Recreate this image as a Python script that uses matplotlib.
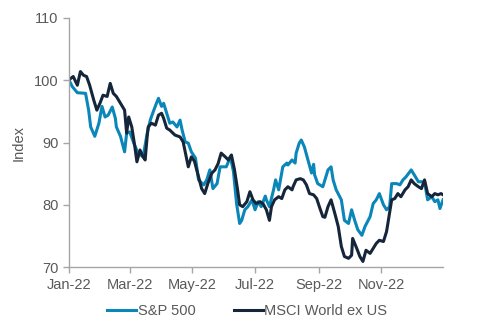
import matplotlib
matplotlib.use("Agg")
import matplotlib.pyplot as plt
import matplotlib.dates as mdates
import pandas as pd

sp_dates = ["2022-01-01","2022-01-04","2022-01-09","2022-01-17","2022-01-20","2022-01-22","2022-01-26","2022-01-30",
            "2022-02-02","2022-02-05","2022-02-08","2022-02-12","2022-02-15","2022-02-16","2022-02-20","2022-02-24","2022-02-26",
            "2022-03-01","2022-03-05","2022-03-09","2022-03-14","2022-03-18","2022-03-21","2022-03-24","2022-03-27","2022-03-29",
            "2022-04-01","2022-04-03","2022-04-06","2022-04-09","2022-04-12","2022-04-16","2022-04-19","2022-04-21","2022-04-24","2022-04-27","2022-04-30",
            "2022-05-04","2022-05-07","2022-05-12","2022-05-15","2022-05-18","2022-05-21","2022-05-25","2022-05-28","2022-05-31",
            "2022-06-03","2022-06-07","2022-06-10","2022-06-13","2022-06-16","2022-06-18","2022-06-21","2022-06-24","2022-06-28",
            "2022-07-01","2022-07-04","2022-07-07","2022-07-11","2022-07-12","2022-07-15","2022-07-19","2022-07-21","2022-07-24","2022-07-28",
            "2022-08-01","2022-08-02","2022-08-06","2022-08-09","2022-08-10","2022-08-13","2022-08-15","2022-08-18","2022-08-22","2022-08-25","2022-08-27","2022-08-28","2022-08-31",
            "2022-09-05","2022-09-10","2022-09-13","2022-09-15","2022-09-18","2022-09-23","2022-09-26","2022-09-30",
            "2022-10-03","2022-10-06","2022-10-09","2022-10-13","2022-10-16","2022-10-21","2022-10-24","2022-10-27","2022-10-30",
            "2022-11-03","2022-11-06","2022-11-09","2022-11-11","2022-11-16","2022-11-19","2022-11-22","2022-11-25","2022-11-30",
            "2022-12-03","2022-12-07","2022-12-10","2022-12-13","2022-12-16","2022-12-20","2022-12-23","2022-12-26","2022-12-28","2022-12-31"]
sp_values = [100.0,99.0,98.0,97.9,95.2,92.5,91.0,93.1,
             95.8,94.1,94.4,95.7,93.9,92.5,91.0,88.5,91.5,
             91.7,89.9,88.3,87.7,91.5,93.6,95.0,96.3,97.1,
             95.8,96.3,94.7,93.1,93.3,92.5,93.6,92.0,90.1,89.9,88.5,
             87.5,84.0,83.2,84.0,85.6,82.6,83.4,86.1,86.1,
             86.1,87.7,85.3,80.2,77.0,77.5,79.2,79.7,80.8,
             79.2,80.5,79.7,81.4,80.8,79.7,82.4,84.0,82.4,86.1,
             86.7,86.4,87.2,86.7,88.3,89.9,90.4,89.3,86.9,85.1,86.5,84.8,83.4,
             82.9,85.6,86.1,84.0,82.4,80.8,77.5,77.0,
             79.2,77.5,76.0,75.1,76.5,78.1,80.2,80.8,81.8,
             80.0,79.2,79.7,83.4,83.4,83.2,84.0,84.5,85.6,
             84.8,83.7,83.7,83.7,80.8,81.3,80.5,80.8,79.4,80.8]

msci_dates = ["2022-01-01","2022-01-05","2022-01-09","2022-01-12","2022-01-15","2022-01-18","2022-01-21","2022-01-25","2022-01-28","2022-01-31",
              "2022-02-03","2022-02-07","2022-02-10","2022-02-13","2022-02-16","2022-02-20","2022-02-24","2022-02-26","2022-02-28",
              "2022-03-03","2022-03-06","2022-03-08","2022-03-11","2022-03-14","2022-03-16","2022-03-18","2022-03-19","2022-03-22","2022-03-26","2022-03-29",
              "2022-04-01","2022-04-03","2022-04-06","2022-04-09","2022-04-14","2022-04-19","2022-04-22","2022-04-25","2022-04-27","2022-04-30",
              "2022-05-03","2022-05-07","2022-05-10","2022-05-13","2022-05-16","2022-05-20","2022-05-23","2022-05-26","2022-05-29",
              "2022-06-02","2022-06-05","2022-06-08","2022-06-11","2022-06-14","2022-06-16","2022-06-19","2022-06-23","2022-06-26","2022-06-29",
              "2022-07-02","2022-07-06","2022-07-09","2022-07-12","2022-07-15","2022-07-17","2022-07-20","2022-07-24","2022-07-27","2022-07-30",
              "2022-08-02","2022-08-06","2022-08-07","2022-08-10","2022-08-14","2022-08-17","2022-08-20","2022-08-23","2022-08-27","2022-08-30",
              "2022-09-02","2022-09-05","2022-09-07","2022-09-10","2022-09-13","2022-09-17","2022-09-20","2022-09-23","2022-09-26","2022-09-30",
              "2022-10-03","2022-10-04","2022-10-08","2022-10-11","2022-10-14","2022-10-17","2022-10-21","2022-10-24","2022-10-27","2022-10-30",
              "2022-11-03","2022-11-06","2022-11-07","2022-11-11","2022-11-14","2022-11-17","2022-11-20","2022-11-24","2022-11-27","2022-11-30",
              "2022-12-03","2022-12-07","2022-12-10","2022-12-13","2022-12-16","2022-12-20","2022-12-23","2022-12-26","2022-12-29","2022-12-31"]
msci_values = [100.1,100.6,99.2,101.4,100.8,100.6,99.2,96.8,95.2,96.3,
               97.6,97.4,99.5,97.9,97.4,96.3,95.2,91.5,94.1,
               92.5,89.3,86.9,88.8,87.7,87.2,91.0,92.5,93.1,92.8,94.4,
               94.7,93.9,92.3,92.0,91.2,90.9,90.1,87.7,86.1,87.7,
               87.0,84.5,82.6,81.8,83.4,85.1,85.6,86.6,88.3,
               87.7,87.2,88.0,85.6,82.4,80.0,79.7,80.5,82.1,80.8,
               80.2,80.5,80.1,79.2,77.5,79.7,80.8,81.3,81.0,82.4,
               82.9,82.4,82.9,84.0,84.2,84.0,83.2,81.8,81.6,81.0,
               79.5,78.1,78.0,79.7,80.8,78.4,76.5,73.3,71.7,71.4,
               71.9,74.6,73.0,71.7,70.9,72.7,72.2,73.0,73.8,74.3,
               74.1,75.7,76.7,80.8,81.0,81.8,81.3,82.4,82.9,84.0,
               83.4,82.9,82.6,84.0,81.8,81.3,81.8,81.6,81.8,81.6]

series_names = ["S&P 500", "MSCI World ex US"]
y_ticks = [70, 80, 90, 100, 110]

plt.rcParams['font.family'] = ['Liberation Sans', 'DejaVu Sans']
gray = '#595959'
fig = plt.figure(figsize=(4.8, 3.33), dpi=100)
ax = fig.add_axes([0.144, 0.198, 0.779, 0.748])

ax.plot(pd.to_datetime(sp_dates), sp_values, color='#0B86B8', lw=2.2, label=series_names[0], solid_joinstyle='round')
ax.plot(pd.to_datetime(msci_dates), msci_values, color='#15263B', lw=2.2, label=series_names[1], solid_joinstyle='round')

ax.set_ylim(70, 110)
ax.set_yticks(y_ticks)
ax.set_xlim(pd.Timestamp("2022-01-01"), pd.Timestamp("2022-12-31"))
ax.xaxis.set_major_locator(mdates.MonthLocator(bymonth=[1, 3, 5, 7, 9, 11]))
ax.xaxis.set_major_formatter(mdates.DateFormatter('%b-%y'))

for s in ['top', 'right']:
    ax.spines[s].set_visible(False)
for s in ['left', 'bottom']:
    ax.spines[s].set_color('#A6A6A6')
    ax.spines[s].set_linewidth(1.0)
ax.tick_params(axis='both', colors='#A6A6A6', labelcolor=gray, labelsize=10.5, length=4, width=1.0, direction='out')
ax.tick_params(axis='x', pad=4)
ax.set_ylabel("Index", color=gray, fontsize=10.5, labelpad=6)

fig.legend(loc='center', bbox_to_anchor=(0.515, 0.066), ncol=2, frameon=False,
           fontsize=10.5, handlelength=2.0, handletextpad=0.1, columnspacing=2.6, labelcolor=gray)

fig.savefig("out.png", dpi=100)
